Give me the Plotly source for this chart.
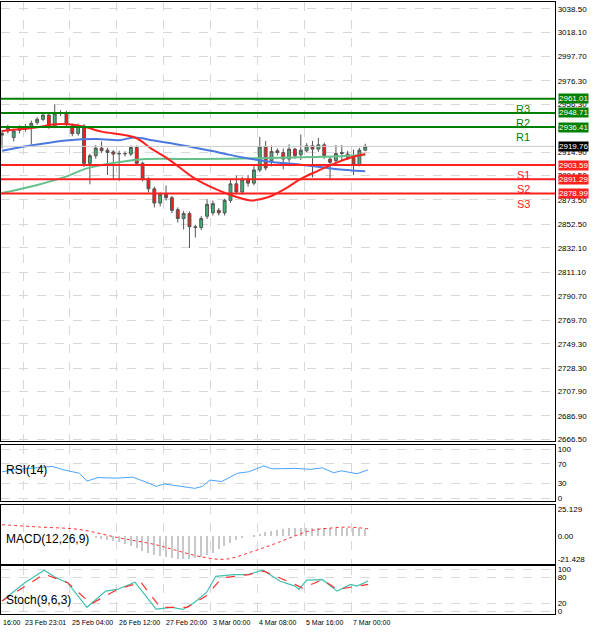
import plotly.graph_objects as go
from plotly.subplots import make_subplots

opens  = [2929.5,2933.1,2927.4,2933.7,2934.5,2936.0,2940.3,2943.1,2946.8,2937.4,2948.8,2948.8,2937.4,2930.8,2937.4,2905.1,2911.7,2918.3,2916.5,2915.0,2913.7,2913.7,2913.1,2918.8,2905.1,2891.7,2883.1,2870.8,2878.3,2875.4,2865.1,2857.4,2861.7,2850.3,2849.7,2859.4,2862.3,2864.5,2862.3,2873.1,2887.4,2880.3,2891.7,2888.0,2899.4,2919.4,2907.4,2916.0,2914.5,2908.8,2917.4,2912.5,2916.0,2920.3,2917.4,2921.1,2908.8,2907.4,2914.5,2913.1,2910.3,2904.0,2916.5]
closes = [2931.0,2936.0,2933.1,2935.4,2936.5,2939.7,2943.1,2946.8,2937.4,2948.0,2948.5,2938.8,2930.8,2937.4,2905.1,2911.7,2918.3,2916.0,2914.5,2913.1,2913.4,2913.4,2918.8,2905.1,2891.7,2883.1,2870.8,2878.3,2875.4,2864.5,2857.4,2861.7,2850.3,2849.7,2857.4,2869.7,2870.3,2862.3,2873.1,2887.4,2880.3,2891.0,2888.0,2899.4,2919.4,2901.1,2915.4,2914.5,2908.8,2917.4,2911.7,2916.5,2920.3,2917.4,2921.1,2911.7,2906.0,2913.7,2913.7,2910.3,2904.0,2916.5,2919.8]
highs  = [2934.0,2938.5,2935.0,2938.0,2939.0,2942.0,2945.0,2949.0,2948.5,2956.0,2951.0,2950.5,2939.5,2939.5,2939.0,2913.5,2921.0,2924.0,2918.5,2916.5,2916.0,2915.5,2920.5,2920.5,2906.5,2893.0,2885.0,2880.0,2886.0,2877.0,2867.0,2864.0,2863.5,2852.0,2859.5,2874.0,2873.0,2866.5,2874.5,2891.0,2894.5,2893.5,2895.0,2903.0,2928.0,2924.5,2920.5,2918.0,2918.0,2921.5,2918.5,2930.0,2922.5,2924.5,2927.0,2923.0,2910.5,2921.0,2921.0,2916.0,2917.0,2918.5,2922.0]
lows   = [2918.0,2931.0,2924.0,2931.0,2932.5,2921.5,2938.5,2941.5,2935.0,2935.5,2946.0,2936.5,2928.5,2929.0,2902.0,2887.0,2909.0,2914.0,2895.0,2891.0,2890.0,2911.0,2911.5,2903.0,2889.5,2880.0,2867.0,2868.0,2873.0,2862.0,2854.0,2848.0,2832.0,2841.0,2847.5,2857.0,2860.0,2860.0,2860.0,2871.0,2878.5,2878.0,2885.0,2886.0,2897.5,2899.0,2902.5,2912.0,2900.0,2906.0,2909.0,2908.0,2914.5,2893.0,2915.0,2909.0,2891.0,2905.0,2908.0,2908.0,2895.0,2902.5,2915.5]

ma_red_x = [0,5.7,9,11.4,14.2,17,22.7,25.6,28.4,33,37,39.8,42.6,45.5,48.3,51,54,56.8,59.7,62]
ma_red_y = [2933.1,2936.0,2938.8,2938.8,2936.5,2932.5,2927.4,2917.4,2908.8,2891.7,2881.7,2876.5,2873.1,2876.0,2883.1,2891.7,2898.8,2905.1,2910.3,2913.1]
ma_blue_x = [0,5.7,11.4,17,19.9,22.7,25.6,31.2,37,42.6,48.3,51,53,56.8,62]
ma_blue_y = [2916.0,2921.1,2925.1,2926.0,2925.1,2927.4,2925.1,2920.3,2914.5,2908.8,2905.1,2904.0,2902.8,2900.3,2898.3]
ma_green_x = [0,5.7,11.4,14.2,19.9,24.4,34,45.5,51,56.8,62]
ma_green_y = [2879.4,2886.0,2894.5,2900.3,2906.0,2908.8,2908.8,2909.7,2910.3,2911.1,2912.3]

pivot_names = ["R3","R2","R1","S1","S2","S3"]
pivot_vals = [2961.01,2948.71,2936.41,2903.59,2891.29,2878.99]
current_price = 2919.76

price_ticks = [3038.50,3018.10,2997.70,2976.30,2956.30,2935.90,2914.90,2894.50,2873.50,2852.50,2832.10,2811.10,2790.70,2769.70,2749.30,2728.30,2707.90,2686.90,2666.50]

rsi_x = [0,2,6.6,8.6,10.5,13.2,14.5,16.4,19.7,22.3,25,26.3,27.7,30.2,32.9,34.2,35.5,37.5,40.2,42.1,44.7,46.1,50,52.7,54.7,56.6,57.9,60.6,62.5]
rsi_y = [54,58,63,65,58,51,35,42,41,43,31,24,29,24,20,24,37,34,51,54,66,60,61,59,62,52,56,50,58]

macd_sig_x = [0,6.6,13.2,19.7,26.3,29.6,34.2,38.2,42.7,46.1,49.3,52.7,55.9,59.2,62.5]
macd_sig_y = [10.8,8.6,6.4,-1.0,-7.7,-12.7,-19.0,-21.0,-14.0,-7.7,-1.0,5.4,7.6,8.6,7.0]
macd_hist_x = list(range(16,63))
macd_hist_y = [-1,-2,-3,-4,-5,-7,-9,-11,-13,-15,-17,-18,-19,-20,-21,-21,-21,-20,-19,-17,-15,-12,-9,-6,-3,-1,0,1,2,4,5,6,7,8,8,8,8,8,8,8,8,8,8,8,8,8,7]

st_main_x = [0,3.9,7.2,9.3,11.2,14.5,17.7,19.7,22.7,26.3,29,30.9,32.9,34.9,36.5,39.5,42.1,44.5,47.4,50,50.7,52,54.7,57.2,59.5,60.6,62.5]
st_main_y = [25,68,97,79,68,10,48,52,69,6,10,5,22,45,83,87,87,98,72,60,52,74,75,48,64,60,72]
st_sig_x = [0,7.2,11.2,15.2,19.7,23.7,27,31.6,34.9,37.5,42.1,44.7,50,51.3,54.7,57.2,62.5]
st_sig_y = [25,88,68,18,52,69,10,10,37,79,87,95,64,55,75,52,64]

time_labels = ["23 Feb 23:01","25 Feb 04:00","26 Feb 12:00","27 Feb 20:00","3 Mar 00:00","4 Mar 08:00","5 Mar 16:00","7 Mar 00:00"]
time_pos = [3.6,11.6,19.6,27.6,35.6,43.6,51.6,59.6]

FONT = "Liberation Sans"
SMALL = 8
TSIZE = 7
fig = make_subplots(rows=4, cols=1, shared_xaxes=True)
xs = list(range(len(opens)))
fig.add_trace(go.Candlestick(x=xs, open=opens, high=highs, low=lows, close=closes,
    increasing=dict(line=dict(color="#555555", width=1), fillcolor="#3cb371"),
    decreasing=dict(line=dict(color="#555555", width=1), fillcolor="#ff1a1a"),
    whiskerwidth=0, showlegend=False), row=1, col=1)
fig.add_trace(go.Scatter(x=ma_green_x, y=ma_green_y, mode="lines", line=dict(color="#66c08a", width=2), line_shape="spline"), row=1, col=1)
fig.add_trace(go.Scatter(x=ma_blue_x, y=ma_blue_y, mode="lines", line=dict(color="#4a78e0", width=2), line_shape="spline"), row=1, col=1)
fig.add_trace(go.Scatter(x=ma_red_x, y=ma_red_y, mode="lines", line=dict(color="#ff2020", width=2), line_shape="spline"), row=1, col=1)

fig.add_trace(go.Scatter(x=rsi_x, y=rsi_y, mode="lines", line=dict(color="#4aa3ff", width=1)), row=2, col=1)
fig.add_trace(go.Bar(x=macd_hist_x, y=macd_hist_y, marker=dict(color="#c8c8c8", line=dict(width=0)), width=0.25), row=3, col=1)
fig.add_trace(go.Scatter(x=macd_sig_x, y=macd_sig_y, mode="lines", line=dict(color="#ff3030", width=1, dash="dot"), line_shape="spline"), row=3, col=1)
fig.add_trace(go.Scatter(x=st_main_x, y=st_main_y, mode="lines", line=dict(color="#40c0b0", width=1.2)), row=4, col=1)
fig.add_trace(go.Scatter(x=st_sig_x, y=st_sig_y, mode="lines", line=dict(color="#ff3030", width=1.2, dash="dash")), row=4, col=1)

XR = [-0.17, 94.4]
W = 555/600
H = 632
def dom(t, b): return [1 - b/H, 1 - t/H]
grid = dict(showgrid=True, gridcolor="#d8d8d8", griddash="dash", gridwidth=1)
ax_common = dict(showline=True, linecolor="black", linewidth=1, mirror=True, side="right",
                 tickfont=dict(family=FONT, size=SMALL, color="black"), ticks="", zeroline=False)
for i in range(1,5):
    fig.update_xaxes(range=XR, domain=[0, W], tickvals=time_pos, showticklabels=False,
                     showline=True, linecolor="black", mirror=True, rangeslider_visible=False, **grid, row=i, col=1)
fig.update_yaxes(domain=dom(0,443), range=[2664.8,3044.5], tickvals=price_ticks,
                 ticktext=[f"{v:.2f}" for v in price_ticks], **grid, **ax_common, row=1, col=1)
fig.update_yaxes(domain=dom(447,503), range=[-6,108], tickvals=[0,30,70,100], **grid, **ax_common, row=2, col=1)
fig.update_yaxes(domain=dom(507,566), range=[-25,29], tickvals=[-21.428,0,25.129], ticktext=["-21.428","0.00","25.129"], showgrid=False, **ax_common, row=3, col=1)
fig.update_yaxes(domain=dom(569,617), range=[-6,106], tickvals=[0,20,80,100], **grid, **ax_common, row=4, col=1)

for n, v in zip(pivot_names, pivot_vals):
    col = "#008000" if n.startswith("R") else "#ff2020"
    fig.add_shape(type="line", x0=0, x1=1, xref="x domain", y0=v, y1=v, yref="y", line=dict(color=col, width=2))
    fig.add_annotation(x=1, xref="x domain", y=v, yref="y", text=f"{v:.2f}", showarrow=False, xanchor="left",
                       xshift=3, bgcolor=col, font=dict(family=FONT, size=SMALL, color="white"), borderpad=0)
    fig.add_annotation(x=89, y=v, yref="y", text=n, showarrow=False, yanchor="top", yshift=-2,
                       font=dict(family=FONT, size=11, color=col))
fig.add_shape(type="line", x0=0, x1=1, xref="x domain", y0=current_price, y1=current_price, yref="y", line=dict(color="#cccccc", width=1))
fig.add_annotation(x=1, xref="x domain", y=current_price, yref="y", text=f"{current_price:.2f}", showarrow=False, xanchor="left",
                   xshift=3, bgcolor="black", font=dict(family=FONT, size=SMALL, color="white"), borderpad=0)

for txt, yr, yv in [("RSI(14)", "y2", 58), ("MACD(12,26,9)", "y3", -2), ("Stoch(9,6,3)", "y4", 28)]:
    fig.add_annotation(x=0.3, y=yv, yref=yr, text=txt, showarrow=False, xanchor="left",
                       font=dict(family=FONT, size=12, color="black"))
LY = 1 - 625/H
fig.add_annotation(x=0, xref="paper", y=LY, yref="paper", yanchor="middle", text="16:00", showarrow=False, xanchor="left",
                   font=dict(family=FONT, size=TSIZE, color="black"))
for t, p in zip(time_labels, time_pos):
    fig.add_annotation(x=p, xref="x4", y=LY, yref="paper", yanchor="middle", text=t, showarrow=False, xanchor="left",
                       font=dict(family=FONT, size=TSIZE, color="black"))

fig.update_layout(width=600, height=632, margin=dict(l=0, r=0, t=0, b=0), showlegend=False,
                  plot_bgcolor="white", paper_bgcolor="white", bargap=0)
fig.write_html("out.html", config={"displayModeBar": False})
with open("out.html", encoding="utf-8") as f:
    html = f.read()
html = html.replace("<head>", "<head><style>html,body{margin:0;padding:0;overflow:hidden}</style>", 1)
with open("out.html", "w", encoding="utf-8") as f:
    f.write(html)
